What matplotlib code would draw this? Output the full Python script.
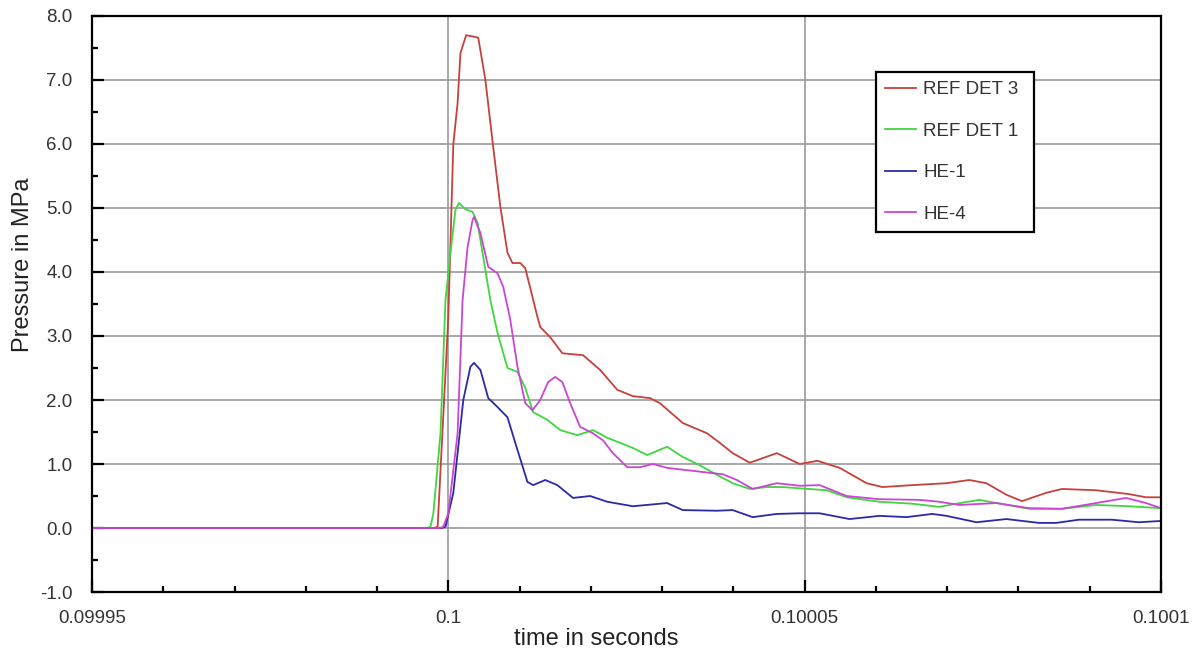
import matplotlib
matplotlib.use("Agg")
import matplotlib.pyplot as plt
from matplotlib.ticker import MultipleLocator, FormatStrFormatter

plt.rcParams['font.family'] = ['Liberation Sans', 'DejaVu Sans']

# time offsets in microseconds relative to t = 0.1 s
ref3_t = [-50, -2, -1.5, 0.0, 0.7, 1.3, 1.7, 2.5, 3.4, 4.2, 5.2, 6.3, 7.3, 8.3, 9.0, 10.1, 10.8,
          12.5, 12.9, 14.3, 16.0, 18.9, 21.3, 23.7, 25.9, 28.3, 29.7, 32.9, 36.3, 38.1, 39.9,
          42.3, 46.1, 49.3, 51.8, 54.9, 58.7, 60.9, 65.1, 69.9, 73.1, 75.5, 78.3, 80.5, 83.9,
          86.1, 90.9, 95.5, 97.9, 100]
ref3_p = [0, 0, 0.02, 3.3, 6.0, 6.64, 7.42, 7.70, 7.68, 7.66, 7.0, 5.95, 5.02, 4.30, 4.14, 4.14, 4.06,
          3.3, 3.14, 2.98, 2.73, 2.70, 2.47, 2.16, 2.06, 2.03, 1.95, 1.64, 1.48, 1.33, 1.17,
          1.02, 1.17, 1.0, 1.05, 0.94, 0.70, 0.64, 0.67, 0.70, 0.75, 0.70, 0.52, 0.42, 0.55,
          0.61, 0.59, 0.53, 0.48, 0.48]

ref1_t = [-50, -3, -2.5, -2.1, -1.1, -0.4, 0.3, 1.0, 1.5, 2.4, 3.4, 4.1, 5.2, 5.9, 6.9, 8.3, 9.7,
          10.8, 11.9, 13.9, 15.7, 18.1, 20.3, 22.3, 24.1, 25.9, 27.9, 30.7, 32.9, 35.3, 37.7,
          39.9, 42.3, 44.7, 46.9, 49.3, 53.1, 55.9, 60.5, 65.1, 68.9, 71.3, 74.5, 76.9, 81.5,
          86.1, 90.9, 95.5, 100]
ref1_p = [0, 0, 0.02, 0.23, 1.48, 3.56, 4.3, 4.97, 5.08, 4.98, 4.94, 4.77, 4.03, 3.56, 3.05, 2.5, 2.44,
          2.19, 1.81, 1.69, 1.53, 1.45, 1.53, 1.41, 1.33, 1.25, 1.14, 1.27, 1.11, 0.98, 0.83,
          0.70, 0.61, 0.64, 0.64, 0.62, 0.59, 0.48, 0.41, 0.38, 0.33, 0.38, 0.44, 0.39, 0.30,
          0.30, 0.36, 0.34, 0.31]

he1_t = [-50, -1, -0.4, 0.7, 2.1, 3.1, 3.6, 4.5, 5.6, 6.9, 8.3, 9.7, 11.1, 11.9, 13.6, 15.3, 17.5,
         19.9, 22.3, 25.9, 30.7, 32.9, 37.7, 39.9, 42.7, 46.1, 49.3, 52.1, 56.3, 60.5, 64.3,
         67.9, 69.9, 74.1, 78.3, 82.9, 85.3, 88.5, 93.1, 96.9, 100]
he1_p = [0, 0, 0.02, 0.55, 2.0, 2.52, 2.58, 2.47, 2.03, 1.89, 1.73, 1.22, 0.72, 0.67, 0.75, 0.67, 0.47,
         0.50, 0.41, 0.34, 0.39, 0.28, 0.27, 0.28, 0.17, 0.22, 0.23, 0.23, 0.14, 0.19, 0.17,
         0.22, 0.19, 0.09, 0.14, 0.08, 0.08, 0.13, 0.13, 0.09, 0.11]

he4_t = [-50, -1.2, -0.7, 0.0, 1.3, 2.0, 2.7, 3.4, 3.6, 4.5, 5.6, 6.9, 7.7, 8.7, 9.7, 10.8, 11.8,
         12.9, 14.0, 15.0, 16.0, 17.1, 18.5, 20.3, 21.7, 23.1, 25.1, 26.9, 28.7, 30.7, 35.3,
         38.5, 40.5, 42.7, 46.1, 49.3, 52.1, 55.9, 60.5, 66.1, 68.9, 71.7, 76.9, 81.5, 86.1,
         90.9, 95.1, 97.9, 100]
he4_p = [0, 0, 0.02, 0.23, 1.48, 3.56, 4.39, 4.81, 4.86, 4.61, 4.08, 3.98, 3.77, 3.25, 2.52, 1.95, 1.84,
         2.0, 2.28, 2.36, 2.28, 1.95, 1.58, 1.48, 1.37, 1.17, 0.95, 0.95, 1.0, 0.94, 0.88,
         0.84, 0.75, 0.61, 0.70, 0.66, 0.67, 0.50, 0.45, 0.44, 0.41, 0.36, 0.39, 0.31, 0.30,
         0.39, 0.47, 0.39, 0.31]

x_ticks = [-50, 0, 50, 100]
x_tick_labels = ["0.09995", "0.1", "0.10005", "0.1001"]

fig = plt.figure(figsize=(11.98, 6.52), dpi=100)
ax = fig.add_axes([0.0768, 0.092, 0.8923, 0.8835])

lw = 1.3
kw = dict(lw=lw, solid_joinstyle='round')
ax.plot(ref3_t, ref3_p, color='#c8403c', label='REF DET 3', **kw)
ax.plot(ref1_t, ref1_p, color='#3fd63f', label='REF DET 1', **kw)
ax.plot(he1_t, he1_p, color='#2a2aa8', label='HE-1', **kw)
ax.plot(he4_t, he4_p, color='#cc44d4', label='HE-4', **kw)

ax.set_xlim(-50, 100)
ax.set_ylim(-1, 8)
ax.set_xticks(x_ticks)
ax.set_xticklabels(x_tick_labels)
ax.xaxis.set_minor_locator(MultipleLocator(10))
ax.yaxis.set_major_locator(MultipleLocator(1))
ax.yaxis.set_minor_locator(MultipleLocator(0.5))
ax.yaxis.set_major_formatter(FormatStrFormatter('%.1f'))

ax.grid(True, which='major', color='#999999', lw=1.2, zorder=0)
ax.set_axisbelow(True)

ax.tick_params(which='major', direction='in', length=8.5, width=1.6,
               labelsize=13.5, labelcolor='#333333', pad=13)
ax.tick_params(which='minor', direction='in', length=4.5, width=1.6)
ax.tick_params(axis='y', which='both', pad=14)
for s in ax.spines.values():
    s.set_linewidth(1.6)

ax.set_xlabel('time in seconds', fontsize=17, color='#222222', va='baseline')
ax.set_ylabel('Pressure in MPa', fontsize=17, color='#222222', va='center')
ax.xaxis.set_label_coords(0.4715, -0.092)
ax.yaxis.set_label_coords(-0.0645, 0.568)

leg = ax.legend(loc='upper left', bbox_to_anchor=(0.733, 0.622, 0.148, 0.281),
                mode='expand', fontsize=13.5, labelspacing=1.3, handlelength=1.65,
                handletextpad=0.4, borderpad=0.5, fancybox=False, framealpha=1,
                edgecolor='black', borderaxespad=0)
leg.get_frame().set_linewidth(1.6)
for t in leg.get_texts():
    t.set_color('#333333')

fig.savefig('out.png', dpi=100)
